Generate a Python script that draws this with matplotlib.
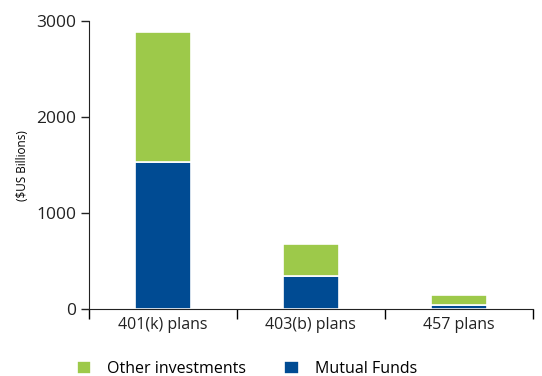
import matplotlib.pyplot as plt
import numpy as np

plt.rcParams['font.family'] = ['Open Sans', 'DejaVu Sans']

plans = ['401(k) plans', '403(b) plans', '457 plans']
mutual_funds = [1530, 340, 45]
other_investments = [1360, 340, 100]

green = '#9dc94a'
blue = '#004b93'

fig = plt.figure(figsize=(5.42, 3.76), dpi=100)
ax = fig.add_axes([0.164, 0.178, 0.819, 0.766])

x = np.arange(len(plans))
ax.bar(x, mutual_funds, width=0.38, color=blue, edgecolor='white', linewidth=1.2, label='Mutual Funds')
ax.bar(x, other_investments, width=0.38, bottom=mutual_funds, color=green, edgecolor='white',
       linewidth=1.2, label='Other investments')

ax.set_xlim(-0.5, 2.5)
ax.set_ylim(0, 3000)
ax.set_yticks([0, 1000, 2000, 3000])
ax.set_xticks(x)
ax.set_xticklabels(plans)
ax.set_xticks([-0.5, 0.5, 1.5, 2.5], minor=True)
ax.tick_params(axis='x', which='major', length=0, labelsize=11.5, pad=6, colors='#222222')
ax.tick_params(axis='x', which='minor', length=7, width=1, direction='out')
ax.tick_params(axis='y', length=6, width=1, labelsize=12.5, colors='#222222', pad=3)
ax.set_ylabel('($US Billions)', fontsize=8.5, labelpad=5)

for s in ['top', 'right']:
    ax.spines[s].set_visible(False)
for s in ['left', 'bottom']:
    ax.spines[s].set_color('#222222')

handles, labels = ax.get_legend_handles_labels()
fig.legend(handles[::-1], labels[::-1], loc='lower left', bbox_to_anchor=(0.115, -0.04),
           ncol=2, frameon=False, fontsize=11.5, handlelength=0.9, handleheight=0.9,
           columnspacing=2.4, handletextpad=1.0)

fig.savefig('out.png', dpi=100)
